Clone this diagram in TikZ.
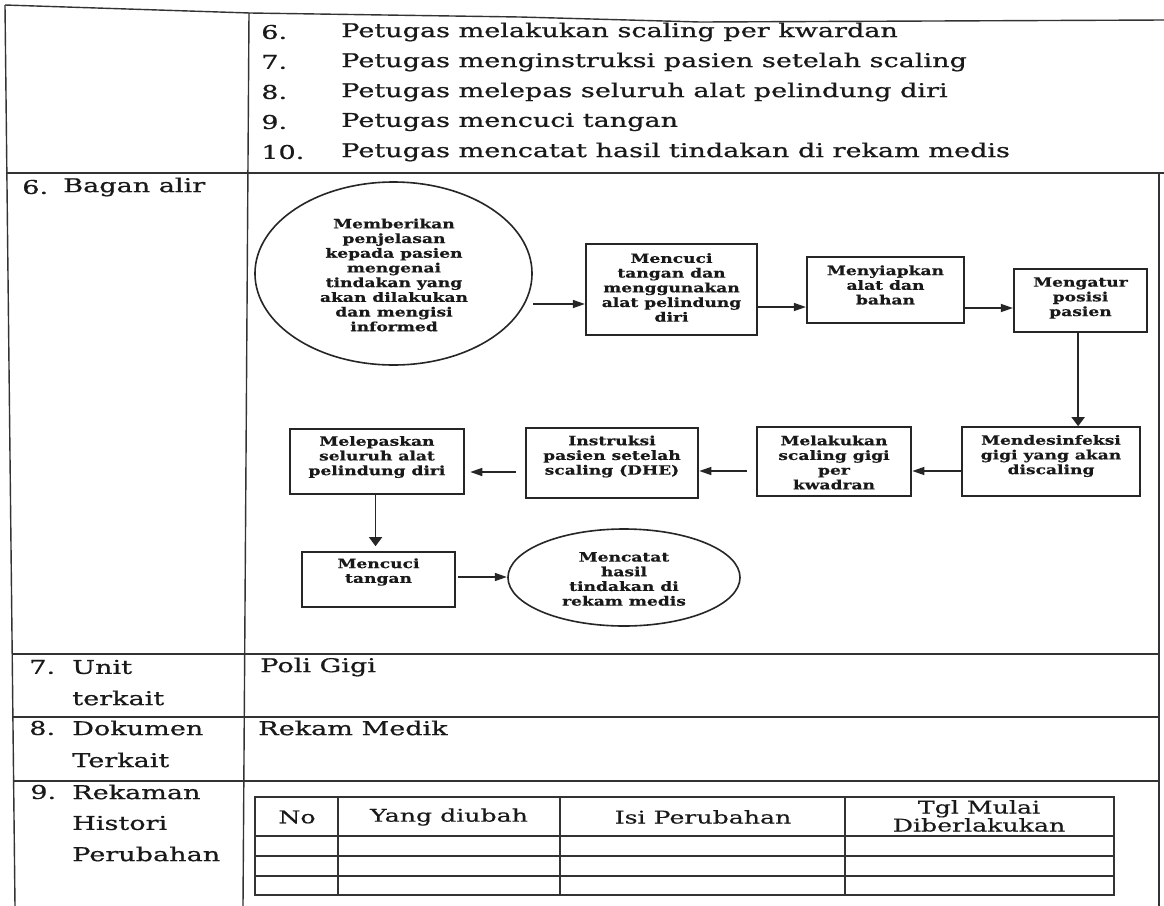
\documentclass[tikz,border=0pt]{standalone}
\usepackage{fontspec}
\setmainfont{DejaVu Serif}
\newfontfamily\mainf[FakeStretch=0.95,FakeBold=0.6]{DejaVu Serif}
\newfontfamily\tabf[FakeStretch=0.96,FakeBold=0.4]{DejaVu Serif}
\newfontfamily\flowf[FakeStretch=0.89,FakeBold=0.4]{DejaVu Serif}
\usetikzlibrary{shapes.geometric,arrows.meta}
\begin{document}
\begin{tikzpicture}[x=0.6666667pt, y=-1pt, xscale=1.5,
  every node/.append style={transform shape},
  tline/.style={line width=1.4pt, draw=black!80},
  iline/.style={line width=1.2pt, draw=black!80},
  mtext/.style={font=\mainf\fontsize{19}{22}\selectfont, inner sep=0pt, anchor=west, text=black!90},
  ttext/.style={font=\tabf\fontsize{17.5}{18}\selectfont, inner sep=0pt, align=center, text=black!90},
  flbox/.style={draw=black!85, line width=1.6pt, rectangle, inner sep=0pt},
  flell/.style={draw=black!85, line width=1.6pt, ellipse, inner sep=0pt},
  fltext/.style={font=\flowf\bfseries\fontsize{12.8}{14.7}\selectfont, align=center, inner sep=0pt, text=black!90},
  harrow/.style={line width=1.5pt, draw=black!85, -{Triangle[length=12pt,width=8pt]}},
  varrow/.style={line width=1.5pt, draw=black!85, -{Triangle[length=9pt,width=13pt]}}
]
\fill[white] (0,0) rectangle (1164,906);
\useasboundingbox (0,0) rectangle (1164,906);

% outer table
\draw[tline] (5,5) -- (250,13) -- (520,17) -- (700,22) -- (1164,20);
\draw[tline] (5,5) -- (15,906);
\draw[tline] (249,13) -- (243,906);
\draw[tline] (1159,173) -- (1159,906);
\draw[tline] (6,173) -- (1164,173);
\draw[tline] (12,654) -- (1159,654);
\draw[tline] (13,717) -- (1159,717);
\draw[tline] (13.6,781) -- (1159,781);

% top list
\node[mtext] (n6) at (261,32) {6.};
\node[mtext] (t6) at (341,32) {Petugas melakukan scaling per kwardan};
\node[mtext] (n7) at (261,62) {7.};
\node[mtext] (t7) at (341,62) {Petugas menginstruksi pasien setelah scaling};
\node[mtext] (n8) at (261,92) {8.};
\node[mtext] (t8) at (341,92) {Petugas melepas seluruh alat pelindung diri};
\node[mtext] (n9) at (261,122) {9.};
\node[mtext] (t9) at (341,122) {Petugas mencuci tangan};
\node[mtext] (n10) at (261,152) {10.};
\node[mtext] (t10) at (341,152) {Petugas mencatat hasil tindakan di rekam medis};

% left column
\node[mtext] (l6n) at (22,187) {6.};
\node[mtext] (l6t) at (63,187) {Bagan alir};
\node[mtext] (l7n) at (29,667) {7.};
\node[mtext] (l7a) at (72,667) {Unit};
\node[mtext] (l7b) at (72,698) {terkait};
\node[mtext] (l8n) at (29,728) {8.};
\node[mtext] (l8a) at (72,728) {Dokumen};
\node[mtext] (l8b) at (72,760) {Terkait};
\node[mtext] (l9n) at (30,792) {9.};
\node[mtext] (l9a) at (72,792) {Rekaman};
\node[mtext] (l9b) at (72,823) {Histori};
\node[mtext] (l9c) at (72,854) {Perubahan};
\node[mtext] (r7) at (260,667) {Poli Gigi};
\node[mtext] (r8) at (258,728) {Rekam Medik};

% inner table
\draw[iline] (255,797) rectangle (1114,895);
\foreach \yy in {836,856,876} \draw[iline] (255,\yy) -- (1114,\yy);
\foreach \xx in {338,560,845} \draw[iline] (\xx,797) -- (\xx,895);
\node[ttext] (hNo) at (297,817) {No};
\node[ttext] (hYang) at (449,817) {Yang diubah};
\node[ttext] (hIsi) at (703,817) {Isi Perubahan};
\node[ttext] (hTgl) at (979,816) {Tgl Mulai\\Diberlakukan};

% flowchart shapes
\node[flell, minimum width=184.7, minimum height=183] (A) at (393.5,273.5) {};
\node[flbox, minimum width=114, minimum height=91] (B) at (671.5,289.5) {};
\node[flbox, minimum width=104.7, minimum height=66] (C) at (885.5,290) {};
\node[flbox, minimum width=88.7, minimum height=63] (D) at (1080.5,300.5) {};
\node[flbox, minimum width=118.7, minimum height=69] (E) at (1051,461.5) {};
\node[flbox, minimum width=102.7, minimum height=69] (F) at (834,461.5) {};
\node[flbox, minimum width=114.7, minimum height=70] (G) at (612,463) {};
\node[flbox, minimum width=116, minimum height=65] (H) at (377,461.5) {};
\node[flbox, minimum width=102, minimum height=55] (I) at (378.5,579.5) {};
\node[flell, minimum width=154.7, minimum height=97] (J) at (624,577.5) {};

% flowchart texts
\node[fltext] (At) at (394,275) {Memberikan\\penjelasan\\kepada pasien\\mengenai\\tindakan yang\\akan dilakukan\\dan mengisi\\informed};
\node[fltext] (Bt) at (671.5,287.5) {Mencuci\\tangan dan\\menggunakan\\alat pelindung\\diri};
\node[fltext] (Ct) at (885.5,285) {Menyiapkan\\alat dan\\bahan};
\node[fltext] (Dt) at (1080.5,298) {Mengatur\\posisi\\pasien};
\node[fltext] (Et) at (1051,456) {Mendesinfeksi\\gigi yang akan\\discaling};
\node[fltext] (Ft) at (834,462.5) {Melakukan\\scaling gigi\\per\\kwadran};
\node[fltext] (Gt) at (612,456.5) {Instruksi\\pasien setelah\\scaling (DHE)};
\node[fltext] (Ht) at (377,457) {Melepaskan\\seluruh alat\\pelindung diri};
\node[fltext] (It) at (378.5,572) {Mencuci\\tangan};
\node[fltext] (Jt) at (624,579) {Mencatat\\hasil\\tindakan di\\rekam medis};

% connector guide coordinates
\coordinate (yAB) at (0,304);
\coordinate (yBC) at (0,307);
\coordinate (yCD) at (0,308);
\coordinate (xDE) at (1078,0);
\coordinate (yEF) at (0,471);
\coordinate (yFG) at (0,471);
\coordinate (yGH) at (0,472);
\coordinate (xHI) at (375.5,0);
\coordinate (yIJ) at (0,577);

% connectors
\draw[harrow] (A.east |- yAB) -- (B.west |- yAB);
\draw[harrow] (B.east |- yBC) -- (C.west |- yBC);
\draw[harrow] (C.east |- yCD) -- (D.west |- yCD);
\draw[varrow] (D.south -| xDE) -- (E.north -| xDE);
\draw[harrow] (E.west |- yEF) -- (F.east |- yEF);
\draw[harrow, shorten <=9pt] (F.west |- yFG) -- (G.east |- yFG);
\draw[harrow, shorten <=9pt, shorten >=5pt] (G.west |- yGH) -- (H.east |- yGH);
\draw[varrow, shorten >=5pt] (H.south -| xHI) -- (I.north -| xHI);
\draw[harrow, shorten <=2pt] (I.east |- yIJ) -- (J.west |- yIJ);
\end{tikzpicture}
\end{document}
